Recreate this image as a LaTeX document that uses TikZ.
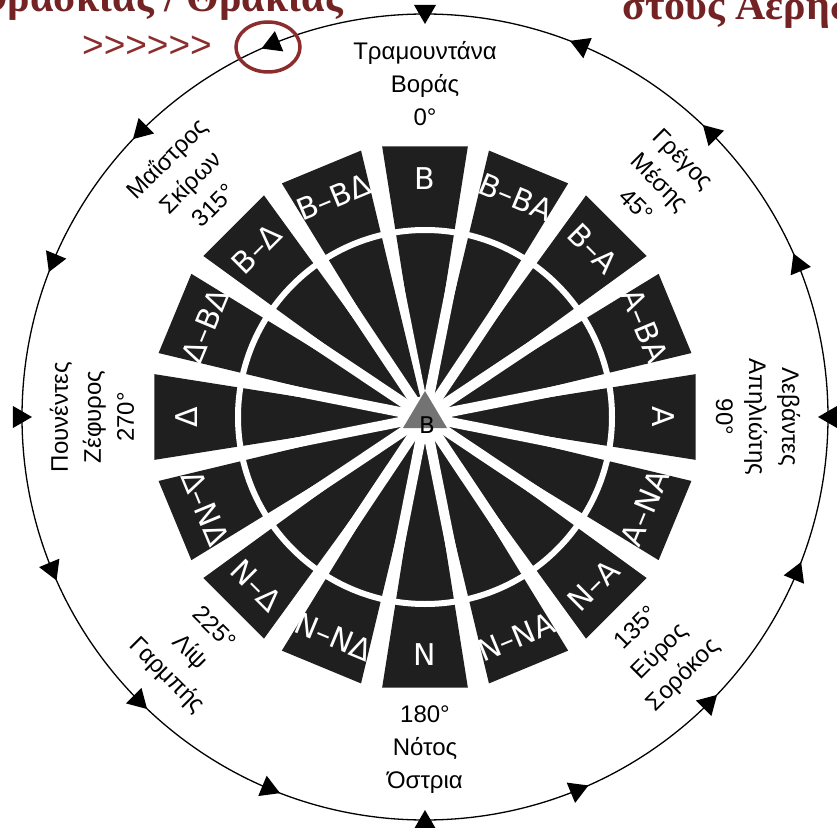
\documentclass[tikz,border=0pt]{standalone}
\usepackage{fontspec}
\setmainfont{Liberation Serif}
\setsansfont{Liberation Sans}
\newfontfamily\dejavu{DejaVu Sans}
\usetikzlibrary{arrows.meta}

\definecolor{annot}{RGB}{140,45,45}
\definecolor{headred}{RGB}{115,35,35}
\newcommand\wfont{\dejavu\fontsize{30}{34}\selectfont}
\newcommand\ofont{\sffamily\fontsize{24}{33}\selectfont}

\begin{document}
\begin{tikzpicture}[
    x=1pt, y=1pt,
    wedge/.style={fill=black!88},
    gap/.style={white, line width=10pt},
    ring/.style={white, line width=6pt},
    wlabel/.style={text=white, font=\wfont, inner sep=0pt},
    wind/.style={align=center, font=\ofont, inner sep=0pt},
    tip/.style={fill=black},
    note/.style={draw=annot, line width=3.5pt},
    heading/.style={text=headred, font=\bfseries\fontsize{42}{46}\selectfont, inner sep=0pt}
]
\useasboundingbox (-425,-410) rectangle (412,417);
\clip (-425,-410) rectangle (412,417);

% dark sectors of the rose
\foreach \lab [count=\i from 0] in {Β,Β–ΒΑ,Β–Α,Α–ΒΑ,Α,Α–ΝΑ,Ν–Α,Ν–ΝΑ,Ν,Ν–ΝΔ,Ν–Δ,Δ–ΝΔ,Δ,Δ–ΒΔ,Β–Δ,Β–ΒΔ}{
  \pgfmathsetmacro{\ang}{90-22.5*\i}
  \pgfmathsetmacro{\aL}{\ang-9}
  \pgfmathsetmacro{\aR}{\ang+9}
  \pgfmathsetmacro{\aG}{\ang+11.25}
  \fill[wedge] (0,0) -- (\aL:274) -- (\aR:274) -- cycle;
  \draw[gap] (0,0) -- (\aG:280);
}
\draw[ring] (0,0) circle (187);
\foreach \lab [count=\i from 0] in {Β,Β–ΒΑ,Β–Α,Α–ΒΑ,Α,Α–ΝΑ,Ν–Α,Ν–ΝΑ,Ν,Ν–ΝΔ,Ν–Δ,Δ–ΝΔ,Δ,Δ–ΒΔ,Β–Δ,Β–ΒΔ}{
  \pgfmathsetmacro{\ang}{90-22.5*\i}
  \pgfmathsetmacro{\c}{22.5*\i}
  \pgfmathsetmacro{\rot}{ifthenelse(and(\c>90,\c<270),180-\c,-\c)}
  \node[wlabel, rotate=\rot] (w\i) at (\ang:238) {\lab};
}

% hub
\fill[white] (0,0) circle (21);
\fill[black!55] (0,26) -- (-22,-11) -- (22,-11) -- cycle;
\node[font=\dejavu\fontsize{23}{26}\selectfont, inner sep=0pt] (hub) at (2,-8) {Β};

% outer ring with arrow marks
\draw[line width=1.3pt] (0,0) circle (403);
\foreach \i in {0,...,15}{
  \pgfmathsetmacro{\ang}{90-22.5*\i}
  \pgfmathsetmacro{\dir}{ifthenelse(mod(\i,4)==0,\ang+180,\ang+90)}
  \fill[tip, shift={(\ang:403)}, rotate=\dir] (10,0) -- (-9,11) -- (-9,-11) -- cycle;
}

% wind names
\foreach \c/\txt [count=\k] in {0/{Τραμουντάνα\\Βοράς\\0°}, 45/{Γρέγος\\Μέσης\\45°},
    90/{Λεβάντες\\Απηλιώτης\\90°}, 135/{135°\\Εύρος\\Σορόκος}, 180/{180°\\Νότος\\Όστρια},
    225/{225°\\Λίψ\\Γαρμπής}, 270/{Πουνέντες\\Ζέφυρος\\270°}, 315/{Μαΐστρος\\Σκίρων\\315°}}{
  \pgfmathsetmacro{\ang}{90-\c}
  \pgfmathsetmacro{\rot}{ifthenelse(and(\c>90,\c<270),180-\c,-\c)}
  \node[wind, rotate=\rot] (o\k) at (\ang:333) {\txt};
}

% page annotations
\node[heading, anchor=base east] (lefthead) at (-82,405) {Θρασκίας / Θρακίας};
\node[heading, anchor=base west] (righthead) at (197,397) {στους Αέρηδες};
\node[text=annot, font=\sffamily\fontsize{37}{40}\selectfont, inner sep=0pt] (marks) at (-278,370) {>{}>{}>{}>{}>{}>};
\draw[note] (-157,370) ellipse (32 and 25);
\end{tikzpicture}
\end{document}
